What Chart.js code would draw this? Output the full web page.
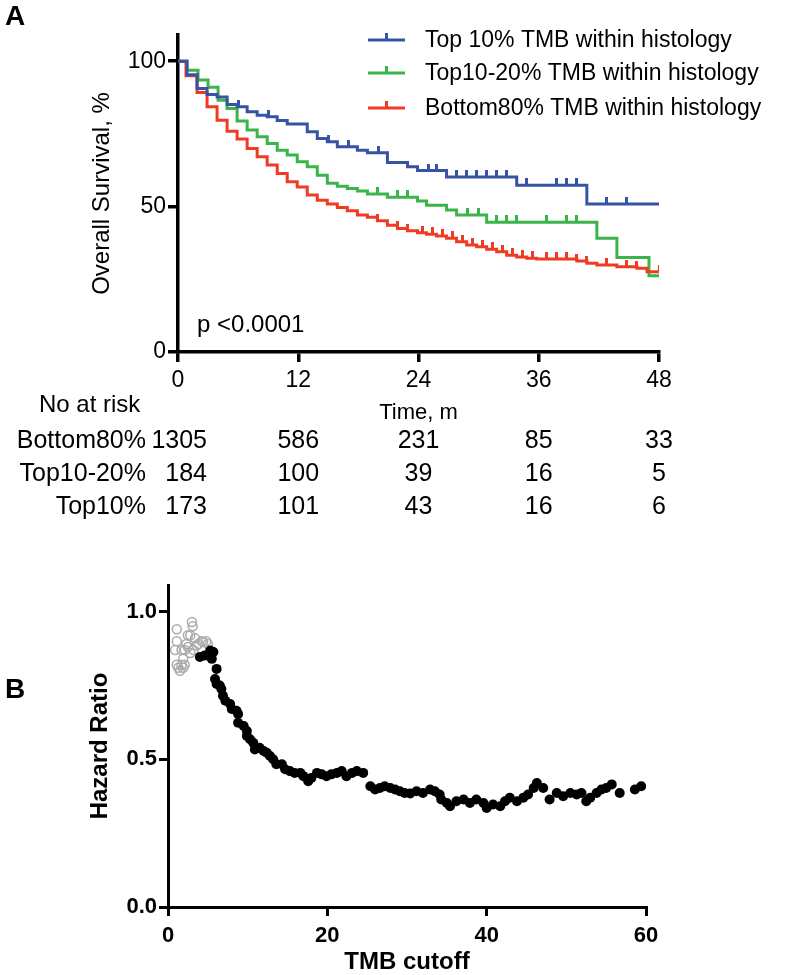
<!DOCTYPE html>
<html>
<head>
<meta charset="utf-8">
<script src="https://cdn.jsdelivr.net/npm/chart.js@4.4.1/dist/chart.umd.min.js"></script>
<style>
  body { margin: 0; background: #fff; }
  #page { position: relative; width: 800px; height: 975px; overflow: hidden; background: #fff; }
  .abs { position: absolute; }
  .panel-label { font-family: "Liberation Sans", Arial, sans-serif; font-weight: bold; font-size: 28px; color: #000; }
</style>
</head>
<body>
<div id="page">
  <canvas id="km" class="abs" style="left:0; top:0;" width="800" height="530"></canvas>
  <canvas id="hr" class="abs" style="left:0; top:560px;" width="800" height="415"></canvas>
  <div class="abs panel-label" style="left:5px; top:0px;">A</div>
  <div class="abs panel-label" style="left:5px; top:673px;">B</div>
</div>
<script>
const family = '"Liberation Sans", Arial, Helvetica, sans-serif';
Chart.defaults.font.family = family;
Chart.defaults.color = '#000';

// ---- Panel A: overall survival (%) by month ----
const groupNames = ['Top 10% TMB within histology', 'Top10-20% TMB within histology', 'Bottom80% TMB within histology'];
const groupColors = ['#3953a4', '#3bb54a', '#ef3b24'];

const top10Months = [0, 0.9, 1.9, 2.9, 3.9, 4.9, 5.9, 6.9, 7.9, 8.9, 9.9, 10.9, 12.9, 13.9, 14.9, 15.9, 17.9, 18.9, 20.9, 22.9, 23.9, 26.8, 33.8, 40.8, 48];
const top10Surv = [100, 95.3, 90.6, 88.5, 87.7, 85.1, 84.3, 82.6, 81.4, 80.9, 79.6, 78.4, 75.7, 73.4, 72.3, 70.6, 69.4, 68.5, 65.2, 63.7, 62.4, 60.2, 57.3, 50.9, 50.9];
const top10Censor = [6, 9, 15, 17, 20, 25, 25.8, 27.8, 28.8, 29.8, 30.8, 31.8, 32.8, 34.8, 37.8, 38.8, 39.8, 42.8, 44.8];

const top10to20Months = [0, 0.9, 2.0, 3.0, 4.0, 4.9, 5.9, 6.9, 7.9, 8.9, 9.9, 10.9, 11.9, 12.9, 13.9, 14.9, 15.9, 16.9, 17.9, 18.9, 20.9, 23.9, 24.8, 26.8, 27.8, 30.8, 41.8, 43.8, 47.0, 48];
const top10to20Surv = [100, 96.9, 93.5, 91.0, 86.6, 83.7, 79.4, 76.3, 74.0, 71.7, 69.4, 67.7, 65.4, 63.7, 60.8, 58.0, 57.0, 56.2, 55.4, 54.3, 53.2, 51.9, 50.5, 48.8, 47.1, 44.6, 39.1, 32.5, 26.2, 26.2];
const top10to20Censor = [19.9, 21.9, 22.9, 28.9, 30.0, 31.8, 32.8, 33.8, 36.8, 38.8, 39.8];

const bottom80Months = [0, 0.8, 1.9, 2.9, 3.9, 4.9, 5.9, 6.9, 7.9, 8.9, 9.9, 10.9, 11.9, 12.9, 13.9, 14.9, 15.9, 16.9, 17.9, 18.9, 19.9, 20.9, 21.9, 22.9, 23.9, 24.8, 25.8, 26.8, 27.8, 28.8, 29.8, 30.8, 31.8, 32.8, 33.8, 34.8, 35.8, 39.8, 40.8, 41.8, 43.8, 45.8, 46.8, 48];
const bottom80Surv = [100, 95.0, 89.2, 84.3, 79.7, 75.9, 73.2, 70.0, 67.1, 64.3, 61.4, 58.5, 56.7, 54.0, 52.2, 50.9, 49.7, 48.6, 47.1, 46.3, 45.1, 43.6, 42.5, 41.7, 41.0, 40.5, 39.9, 39.1, 37.9, 36.8, 36.2, 35.3, 34.5, 33.3, 32.7, 32.2, 32.0, 31.3, 30.5, 29.9, 29.3, 28.8, 27.6, 27.6];
const bottom80Censor = [19.9, 21.9, 22.9, 24.4, 25.4, 26.4, 27.4, 28.4, 29.4, 30.4, 31.4, 32.4, 33.4, 34.4, 35.4, 36.8, 37.8, 38.8, 39.8, 40.8, 42.8, 44.8, 45.8, 48];

// number at risk
const riskMonths = [0, 12, 24, 36, 48];
const riskLabels = ['Bottom80%', 'Top10-20%', 'Top10%'];
const riskBottom80 = [1305, 586, 231, 85, 33];
const riskTop10to20 = [184, 100, 39, 16, 5];
const riskTop10 = [173, 101, 43, 16, 6];

// ---- Panel B: hazard ratio by TMB cutoff ----
const sigTmb = [4.0, 4.6, 5.3, 5.7, 5.5, 6.1, 5.9, 6.1, 6.5, 6.7, 6.9, 7.2, 7.8, 8.0, 8.6, 8.8, 8.8, 9.5, 9.9, 9.9, 10.3, 10.7, 10.9, 11.5, 12.0, 12.4, 12.8, 13.2, 13.6, 14.3, 14.7, 15.3, 15.9, 16.6, 17.0, 17.6, 18.0, 18.7, 19.3, 19.9, 20.5, 21.2, 21.8, 22.4, 23.1, 23.7, 24.5, 25.4, 26.0, 26.6, 27.2, 27.9, 28.5, 29.1, 29.7, 30.4, 31.2, 32.0, 32.9, 33.5, 34.1, 34.3, 35.0, 35.4, 36.2, 37.1, 37.9, 38.7, 39.6, 40.0, 40.8, 41.7, 42.3, 42.9, 43.8, 44.6, 45.2, 45.9, 46.3, 47.1, 47.9, 48.8, 49.6, 50.5, 51.3, 51.9, 52.5, 53.0, 53.8, 54.4, 55.0, 55.7, 56.7, 58.6, 59.4];
const sigHr = [0.846, 0.851, 0.868, 0.863, 0.840, 0.806, 0.772, 0.755, 0.750, 0.738, 0.715, 0.698, 0.687, 0.670, 0.664, 0.653, 0.624, 0.613, 0.596, 0.579, 0.568, 0.556, 0.533, 0.539, 0.528, 0.522, 0.511, 0.500, 0.483, 0.483, 0.466, 0.460, 0.454, 0.454, 0.443, 0.426, 0.437, 0.454, 0.449, 0.443, 0.449, 0.454, 0.460, 0.443, 0.454, 0.460, 0.454, 0.409, 0.398, 0.403, 0.409, 0.403, 0.398, 0.392, 0.386, 0.384, 0.392, 0.386, 0.398, 0.392, 0.381, 0.364, 0.352, 0.341, 0.358, 0.364, 0.352, 0.364, 0.352, 0.335, 0.347, 0.341, 0.358, 0.370, 0.358, 0.370, 0.381, 0.403, 0.420, 0.403, 0.364, 0.386, 0.375, 0.386, 0.381, 0.386, 0.358, 0.370, 0.386, 0.398, 0.403, 0.415, 0.386, 0.398, 0.409];
const nsTmb = [1.1, 1.1, 0.9, 1.1, 1.3, 1.7, 1.9, 2.1, 1.9, 1.7, 2.1, 2.5, 2.3, 3.0, 3.1, 2.8, 3.4, 3.6, 3.8, 4.2, 4.4, 4.8, 5.0, 3.2, 2.8, 2.5, 1.5];
const nsHr = [0.94, 0.90, 0.87, 0.82, 0.81, 0.82, 0.81, 0.82, 0.84, 0.87, 0.87, 0.88, 0.89, 0.965, 0.95, 0.92, 0.91, 0.885, 0.89, 0.90, 0.897, 0.90, 0.89, 0.87, 0.86, 0.92, 0.80];

function toPoints(xs, ys) {
  return xs.map((x, i) => ({ x: x, y: ys[i] }));
}

function survivalAt(months, surv, t) {
  let v = surv[0];
  for (let i = 0; i < months.length; i++) {
    if (months[i] <= t) v = surv[i];
  }
  return v;
}

// little upward tick used for censored observations
function censorMark(color) {
  const c = document.createElement('canvas');
  c.width = 3;
  c.height = 14;
  const g = c.getContext('2d');
  g.fillStyle = color;
  g.fillRect(0, 0, 3, 7);
  return c;
}

const kmGroups = [
  { months: top10Months, surv: top10Surv, censor: top10Censor },
  { months: bottom80Months, surv: bottom80Surv, censor: bottom80Censor },
  { months: top10to20Months, surv: top10to20Surv, censor: top10to20Censor }
];
const kmColors = [groupColors[0], groupColors[2], groupColors[1]];

const kmDatasets = [];
kmGroups.forEach((g, i) => {
  kmDatasets.push({
    data: toPoints(g.months, g.surv),
    showLine: true,
    stepped: true,
    borderColor: kmColors[i],
    borderWidth: 3,
    pointRadius: 0,
    fill: false
  });
});
kmGroups.forEach((g, i) => {
  kmDatasets.push({
    data: g.censor.map(t => ({ x: t, y: survivalAt(g.months, g.surv, t) })),
    showLine: false,
    pointStyle: censorMark(kmColors[i]),
    pointRadius: 3
  });
});

const kmExtras = {
  id: 'kmExtras',
  afterDraw(chart) {
    const ctx = chart.ctx;
    const xs = chart.scales.x;
    ctx.save();

    // legend
    const legendY = [40, 73, 108];
    groupNames.forEach((name, i) => {
      ctx.fillStyle = groupColors[i];
      ctx.fillRect(368, legendY[i] - 1.5, 37, 3);
      ctx.fillRect(385, legendY[i] - 7, 3, 7);
      ctx.fillStyle = '#000';
      ctx.font = '23px ' + family;
      ctx.textAlign = 'left';
      ctx.textBaseline = 'middle';
      ctx.fillText(name, 425, legendY[i] + 1);
    });

    ctx.font = '24px ' + family;
    ctx.fillText('p <0.0001', 197, 325);

    // number at risk table
    ctx.fillText('No at risk', 39, 405);
    ctx.textAlign = 'center';
    ctx.font = '22px ' + family;
    ctx.fillText('Time, m', (xs.left + xs.right) / 2, 413);

    const rows = [riskBottom80, riskTop10to20, riskTop10];
    const rowY = [441, 474, 507];
    ctx.font = '25px ' + family;
    rows.forEach((counts, r) => {
      ctx.textAlign = 'right';
      ctx.fillText(riskLabels[r], 146, rowY[r]);
      counts.forEach((n, c) => {
        if (c === 0) {
          ctx.textAlign = 'right';
          ctx.fillText(String(n), 207, rowY[r]);
        } else {
          ctx.textAlign = 'center';
          ctx.fillText(String(n), xs.getPixelForValue(riskMonths[c]), rowY[r]);
        }
      });
    });
    ctx.restore();
  }
};

new Chart(document.getElementById('km'), {
  type: 'scatter',
  data: { datasets: kmDatasets },
  options: {
    responsive: false,
    animation: false,
    layout: { padding: { left: 0, top: 35, right: 141, bottom: 0 } },
    plugins: { legend: { display: false }, tooltip: { enabled: false } },
    scales: {
      x: {
        type: 'linear',
        min: 0,
        max: 48,
        afterFit: s => { s.height = 178; },
        afterBuildTicks: s => { s.ticks = riskMonths.map(v => ({ value: v })); },
        border: { color: '#000', width: 3.5 },
        grid: { drawOnChartArea: false, color: '#000', lineWidth: 3.5, tickLength: 10 },
        ticks: { color: '#000', font: { size: 23 }, padding: 5, maxRotation: 0 }
      },
      y: {
        min: 0,
        max: 109,
        afterFit: s => { s.width = 178; },
        afterBuildTicks: s => { s.ticks = [0, 50, 100].map(v => ({ value: v })); },
        border: { color: '#000', width: 3.5 },
        grid: { drawOnChartArea: false, color: '#000', lineWidth: 3.5, tickLength: 10 },
        ticks: { color: '#000', font: { size: 23 }, padding: 2 },
        title: { display: true, text: 'Overall Survival, %', color: '#000', font: { size: 24 }, padding: { top: 88, bottom: 0 } }
      }
    }
  },
  plugins: [kmExtras]
});

new Chart(document.getElementById('hr'), {
  type: 'scatter',
  data: {
    datasets: [
      {
        data: toPoints(sigTmb, sigHr),
        backgroundColor: '#000',
        borderWidth: 0,
        pointRadius: 5
      },
      {
        data: toPoints(nsTmb, nsHr),
        backgroundColor: 'rgba(255,255,255,0)',
        borderColor: '#ababab',
        borderWidth: 1.5,
        pointRadius: 4.5
      }
    ]
  },
  options: {
    responsive: false,
    animation: false,
    layout: { padding: { left: 0, top: 25, right: 154, bottom: 0 } },
    plugins: { legend: { display: false }, tooltip: { enabled: false } },
    scales: {
      x: {
        type: 'linear',
        min: 0,
        max: 60,
        afterFit: s => { s.height = 68; },
        afterBuildTicks: s => { s.ticks = [0, 20, 40, 60].map(v => ({ value: v })); },
        border: { color: '#000', width: 3 },
        grid: { drawOnChartArea: false, color: '#000', lineWidth: 3, tickLength: 9 },
        ticks: { color: '#000', font: { size: 22, weight: 'bold' }, padding: 7, maxRotation: 0 },
        title: { display: true, text: 'TMB cutoff', color: '#000', font: { size: 24, weight: 'bold' }, padding: { top: 0, bottom: -2 } }
      },
      y: {
        min: 0,
        max: 1.09,
        afterFit: s => { s.width = 168; },
        afterBuildTicks: s => { s.ticks = [0, 0.5, 1].map(v => ({ value: v })); },
        border: { color: '#000', width: 3 },
        grid: { drawOnChartArea: false, color: '#000', lineWidth: 3, tickLength: 9 },
        ticks: { color: '#000', font: { size: 22, weight: 'bold' }, padding: 2, callback: v => v.toFixed(1) },
        title: { display: true, text: 'Hazard Ratio', color: '#000', font: { size: 24, weight: 'bold' }, padding: { top: 86, bottom: 0 } }
      }
    }
  }
});
</script>
</body>
</html>
